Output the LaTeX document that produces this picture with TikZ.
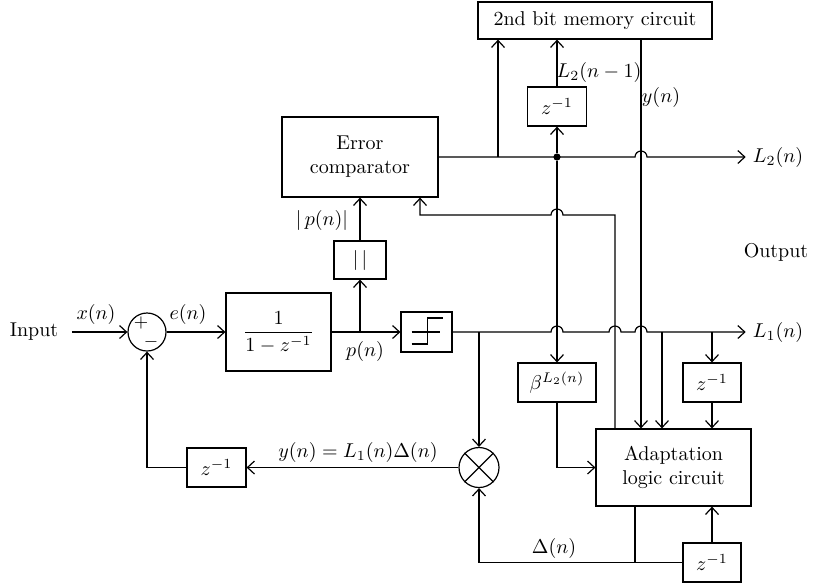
\documentclass[tikz,border=0pt]{standalone}
\usepackage{amsmath}
\usetikzlibrary{arrows.meta,calc}
\begin{document}
\begin{tikzpicture}[x=0.5pt,y=-0.5pt,line width=0.6pt,
  arr/.style={-{Straight Barb[length=3.5pt,width=6.5pt]}},
  blk/.style={draw,rectangle,inner sep=0pt,align=center},
  lbl/.style={inner sep=0pt},
  dotnode/.style={circle,fill,inner sep=0pt,minimum size=3.6pt}]
\useasboundingbox (0,0) rectangle (822,586);
% column / row helpers
\coordinate (cA) at (498,0);
\coordinate (cB) at (557,0);
\coordinate (cC) at (615,0);
\coordinate (cD) at (641,0);
\coordinate (cE) at (662,0);
\coordinate (cF) at (712,0);
\coordinate (cG) at (420,0);
\coordinate (cH) at (635,0);
\coordinate (cM) at (479,0);
\coordinate (cP) at (360,0);
\coordinate (rowR) at (0,215);
% blocks
\node[lbl] (in) at (34,332) {Input};
\node[draw,circle,minimum size=19pt,inner sep=0pt] (sum) at (147,332) {};
\node[lbl,font=\small] (plus) at (141,323) {$+$};
\node[lbl,font=\small] (minus) at (151,342) {$-$};
\node[blk,minimum width=52.5pt,minimum height=39pt] (integ) at (278.5,332) {$\dfrac{1}{1-z^{-1}}$};
\node[blk,minimum width=26pt,minimum height=19pt] (abs) at (360,260) {$\vert\,\vert$};
\node[blk,minimum width=25.5pt,minimum height=20pt] (quant) at (426.5,332) {};
\node[blk,minimum width=78pt,minimum height=40pt] (errc) at (360,157) {Error\\comparator};
\node[blk,minimum width=117pt,minimum height=18.5pt] (mem) at (595,20.5) {2nd bit memory circuit};
\node[blk,minimum width=29.5pt,minimum height=19.5pt] (zA) at (557,106.5) {$z^{-1}$};
\node[blk,minimum width=39pt,minimum height=19.5pt] (beta) at (557,382.5) {$\beta^{L_2(n)}$};
\node[blk,minimum width=29pt,minimum height=19.5pt] (zB) at (712,382.5) {$z^{-1}$};
\node[blk,minimum width=77.5pt,minimum height=38.5pt] (adapt) at (673.5,467.5) {Adaptation\\logic circuit};
\node[blk,minimum width=29pt,minimum height=19.5pt] (zC) at (712,562.5) {$z^{-1}$};
\node[blk,minimum width=29.5pt,minimum height=19.5pt] (zD) at (216.5,467.5) {$z^{-1}$};
\node[draw,circle,minimum size=20pt,inner sep=0pt] (mult) at (479,467.5) {};
\node (L2lbl) at (778,157) {$L_2(n)$};
\node (L1lbl) at (778,332) {$L_1(n)$};
% symbols inside blocks
\draw[shift={(quant.center)}] (-15,0) -- (13,0) (-15,12) -- (1,12) -- (1,-14) -- (16,-14);
\draw (mult.north west) -- (mult.south east) (mult.north east) -- (mult.south west);
% labels
\node[lbl] (xl) at (96,314) {$x(n)$};
\node[lbl] (el) at (188,314) {$e(n)$};
\node[lbl] (pl) at (365,351) {$p(n)$};
\node[lbl] (apl) at (322,220) {$|\,p(n)|$};
\node[lbl] (l2m) at (599,72) {$L_2(n-1)$};
\node[lbl] (yl) at (661,97) {$y(n)$};
\node[lbl] (outl) at (776,252) {Output};
\node[lbl] (yeq) at (358,452) {$y(n) = L_1(n)\Delta(n)$};
\node[lbl] (dl) at (554,548) {$\Delta(n)$};
% connectors
\draw[arr] ([xshift=6.5pt]in.east) -- (sum.west);
\draw[arr] (sum.east) -- (integ.west);
\draw (integ.east) -- (cP |- integ.east);
\draw[arr] (cP |- integ.east) -- (quant.west);
\draw[arr] (cP |- integ.east) -- (abs.south);
\draw[arr] (abs.north) -- (errc.south);
\draw[arr] (errc.east) -- ($(cD |- errc.east)+(-6,0)$) arc[start angle=180,end angle=0,radius=3pt] -- (L2lbl.west);
\draw[arr] (cA |- errc.east) -- (cA |- mem.south);
\node[dotnode] (dot) at (cB |- errc.east) {};
\draw[arr] (dot) -- (zA.south);
\draw[arr] (zA.north) -- (zA.north |- mem.south);
\draw[arr] (dot) -- (beta.north);
\draw[arr] (beta.south) -- (beta.south |- adapt.west) -- (adapt.west);
\draw[arr] (cD |- mem.south) -- (cD |- adapt.north);
\draw[arr] (cC |- adapt.north) -- (cC |- rowR) -- ($(cB |- rowR)+(6,0)$) arc[start angle=0,end angle=180,radius=3pt] -- (cG |- rowR) -- (cG |- errc.south);
\draw[arr] (quant.east) -- ($(cB |- quant.east)+(-6,0)$) arc[start angle=180,end angle=0,radius=3pt]
  -- ($(cC |- quant.east)+(-6,0)$) arc[start angle=180,end angle=0,radius=3pt]
  -- ($(cD |- quant.east)+(-6,0)$) arc[start angle=180,end angle=0,radius=3pt] -- (L1lbl.west);
\draw[arr] (cM |- quant.east) -- (mult.north);
\draw[arr] (cE |- quant.east) -- (cE |- adapt.north);
\draw[arr] (cF |- quant.east) -- (zB.north);
\draw[arr] (zB.south) -- (zB.south |- adapt.north);
\draw[arr] (mult.west) -- (zD.east);
\draw[arr] (zD.west) -- (sum.south |- zD.west) -- (sum.south);
\draw (cH |- adapt.south) -- (cH |- zC.west);
\draw[arr] (zC.west) -- (mult.south |- zC.west) -- (mult.south);
\draw[arr] (zC.north) -- (zC.north |- adapt.south);
\end{tikzpicture}
\end{document}
